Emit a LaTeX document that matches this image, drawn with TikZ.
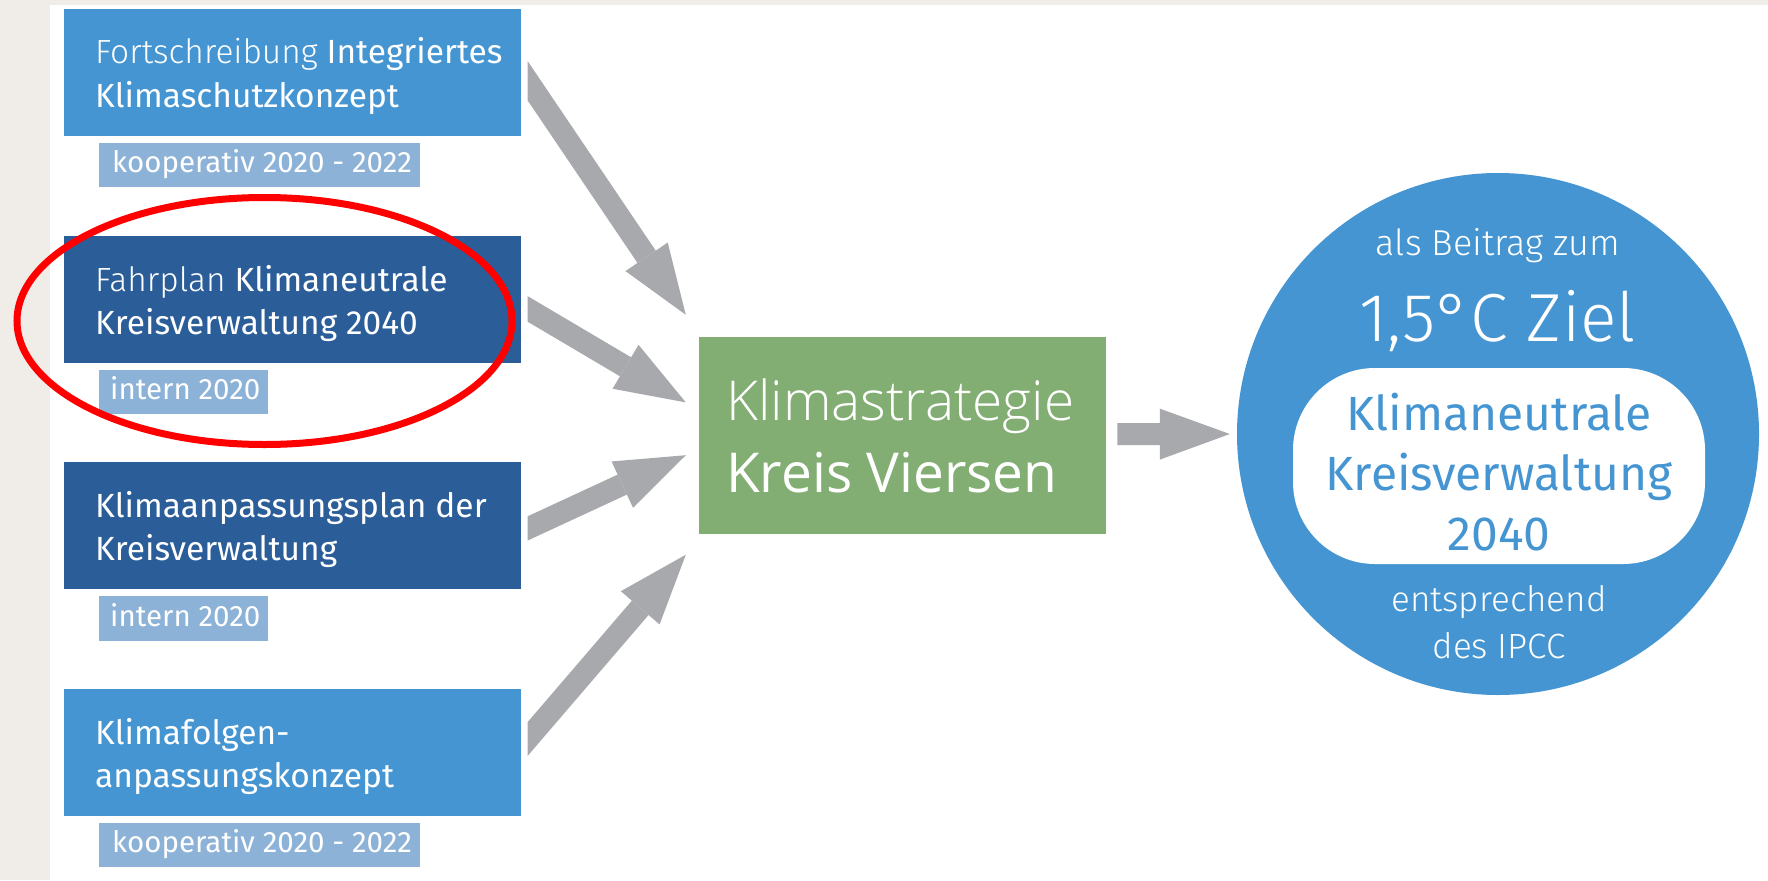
\documentclass[tikz,border=0pt]{standalone}
\usepackage{fontspec}
\usetikzlibrary{arrows.meta,calc}
\setmainfont{Fira Sans}
\IfFontExistsTF{Fira Sans Light}{\newfontfamily\fl{Fira Sans Light}}{\newfontfamily\fl{Fira Sans}}
\newfontfamily\fr{Fira Sans}
\IfFontExistsTF{Open Sans Light}{\newfontfamily\osl{Open Sans Light}}{\newfontfamily\osl{Open Sans}}
\newfontfamily\osr{Open Sans}
\definecolor{mblue}{HTML}{4495D1}
\definecolor{dblue}{HTML}{2B5E99}
\definecolor{lblue}{HTML}{8CB2D7}
\definecolor{kgreen}{HTML}{83AE73}
\definecolor{agray}{HTML}{A8A9AD}
\definecolor{bggray}{HTML}{F0EDE8}
\definecolor{ringred}{HTML}{FF0000}
\tikzset{
  srcbox/.style={rectangle, inner sep=0pt, minimum width=457pt, minimum height=126.5pt, anchor=north west},
  tagbox/.style={rectangle, fill=lblue, inner sep=0pt, minimum height=44.5pt, anchor=north west},
  btxt/.style={inner sep=0pt, anchor=base west, text=white, font=\fr\fontsize{33.5}{40}\selectfont},
  ttxt/.style={inner sep=0pt, anchor=base west, text=white, font=\fr\fontsize{29.5}{34}\selectfont},
  ctxt/.style={inner sep=0pt, anchor=base, text=white},
  ptxt/.style={inner sep=0pt, anchor=base, text=mblue, font=\fr\fontsize{48}{56}\selectfont},
  gtxt/.style={inner sep=0pt, anchor=base west, text=white},
  blockarrow/.style={draw=agray, line width=22pt, -{Triangle[length=70pt,width=51pt,line width=0pt]}},
}
\begin{document}
\begin{tikzpicture}[x=1pt,y=-1pt]
\useasboundingbox (0,0) rectangle (1768,880);
\fill[bggray] (0,0) rectangle (1768,880);
\fill[white] (50,5) rectangle (1768,880);

% source boxes
\node[srcbox, fill=mblue] (b1) at (64,9) {};
\node[srcbox, fill=dblue] (b2) at (64,236) {};
\node[srcbox, fill=dblue] (b3) at (64,462) {};
\node[srcbox, fill=mblue] (b4) at (64,689) {};

\node[btxt] (b1a) at ($(b1.north west)+(31,55)$) {{\fl Fortschreibung} Integriertes};
\node[btxt] (b1b) at ($(b1.north west)+(31,98)$) {Klimaschutzkonzept};
\node[btxt] (b2a) at ($(b2.north west)+(31,55)$) {{\fl Fahrplan} Klimaneutrale};
\node[btxt] (b2b) at ($(b2.north west)+(31,98)$) {Kreisverwaltung 2040};
\node[btxt] (b3a) at ($(b3.north west)+(31,55)$) {Klimaanpassungsplan der};
\node[btxt] (b3b) at ($(b3.north west)+(31,98)$) {Kreisverwaltung};
\node[btxt] (b4a) at ($(b4.north west)+(31,55)$) {Klimafolgen-};
\node[btxt] (b4b) at ($(b4.north west)+(31,98)$) {anpassungskonzept};

% tags
\node[tagbox, minimum width=321pt] (g1) at (99,142.7) {};
\node[tagbox, minimum width=168.5pt] (g2) at (99,369.3) {};
\node[tagbox, minimum width=168.5pt] (g3) at (99,596) {};
\node[tagbox, minimum width=321pt] (g4) at (99,822.3) {};
\node[ttxt] (g1t) at ($(g1.north west)+(13,30)$) {kooperativ 2020 - 2022};
\node[ttxt] (g2t) at ($(g2.north west)+(11,30)$) {intern 2020};
\node[ttxt] (g3t) at ($(g3.north west)+(11,30)$) {intern 2020};
\node[ttxt] (g4t) at ($(g4.north west)+(13,30)$) {kooperativ 2020 - 2022};

% central box
\node[rectangle, fill=kgreen, inner sep=0pt, minimum width=407pt, minimum height=197pt, anchor=north west] (gr) at (698.5,336.5) {};
\node[gtxt, font=\osl\fontsize{55}{62}\selectfont] (gra) at (726,420) {Klimastrategie};
\node[gtxt, font=\osr\fontsize{55}{62}\selectfont] (grb) at (726,492) {Kreis Viersen};

% target circle
\node[circle, fill=mblue, minimum size=522pt, inner sep=0pt] (circ) at (1498,434) {};
\node[rectangle, rounded corners=82pt, fill=white, minimum width=412pt, minimum height=196pt, inner sep=0pt] (pill) at (1499,466) {};
\node[ctxt, font=\fl\fontsize{36}{42}\selectfont] (c1) at (1498,255) {als Beitrag zum};
\node[ctxt, font=\fl\fontsize{68}{76}\selectfont] (c2) at (1498,341) {1,5°C Ziel};
\node[ptxt] (p1) at (1499,430) {Klimaneutrale};
\node[ptxt] (p2) at (1499,490) {Kreisverwaltung};
\node[ptxt] (p3) at (1499,550) {2040};
\node[ctxt, font=\fl\fontsize{35}{42}\selectfont] (c3) at (1499,611.5) {entsprechend};
\node[ctxt, font=\fl\fontsize{35}{42}\selectfont] (c4) at (1499,658) {des IPCC};

% arrows
\coordinate (t1) at ($(b1.east)+(6.7,9)$);
\coordinate (t2) at ($(b2.east)+(6.7,9.75)$);
\coordinate (t3) at ($(b3.east)+(6.7,2.75)$);
\coordinate (t4) at ($(b4.east)+(6.7,-14)$);
\coordinate (h1) at ($(gr.west)+(-12.7,-120.4)$);
\coordinate (h2) at ($(gr.west)+(-12.7,-32.8)$);
\coordinate (h3) at ($(gr.west)+(-12.7,20)$);
\coordinate (h4) at ($(gr.west)+(-12.7,119.5)$);
\begin{scope}
  \clip (527.7,0) rectangle (1768,880);
  \draw[blockarrow] ($(t1)!-40pt!(h1)$) -- (h1);
  \draw[blockarrow] ($(t2)!-40pt!(h2)$) -- (h2);
  \draw[blockarrow] ($(t3)!-40pt!(h3)$) -- (h3);
  \draw[blockarrow] ($(t4)!-40pt!(h4)$) -- (h4);
\end{scope}
\coordinate (t5) at ($(gr.east)+(11.5,-1)$);
\coordinate (h5) at ($(circ.west)+(-7,0)$);
\draw[blockarrow] (t5) -- (h5);

% red highlight ellipse
\draw[ringred, line width=7pt] (264.5,321) ellipse [x radius=247.5, y radius=123.5];
\end{tikzpicture}
\end{document}
